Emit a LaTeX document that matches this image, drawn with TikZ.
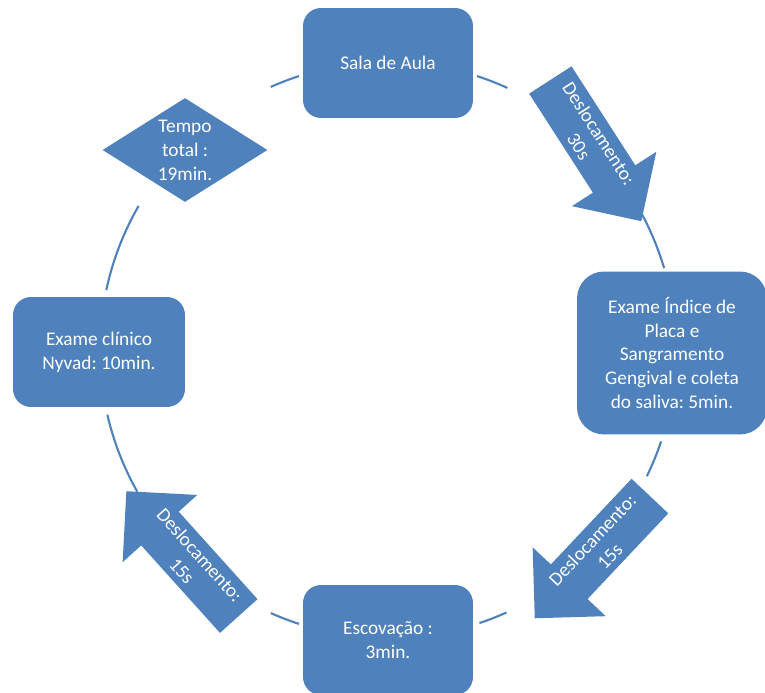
\documentclass[tikz,border=0pt]{standalone}
\usepackage{fontspec}
\setmainfont{Carlito}
\frenchspacing
\usepackage{tikz}
\usetikzlibrary{shapes.geometric, shapes.arrows, backgrounds}
\definecolor{accent}{RGB}{79,129,189}

\begin{document}
\begin{tikzpicture}[
    x=0.02cm, y=0.02cm,
    font=\fontsize{11}{13.6}\selectfont,
    box/.style={rectangle, rounded corners=0.36cm, fill=accent, text=white, align=center, minimum width=3.4cm, minimum height=2.2cm},
    move/.style={single arrow, single arrow head extend=0.5cm, fill=accent, text=white, align=center, minimum height=3.36cm, inner sep=3.5pt},
    ring/.style={accent, line width=1.2pt}
]
\useasboundingbox (0,0) rectangle (765,693);
\coordinate (hub) at (388,343);

\node[box] (sala) at (388,630) {Sala de Aula};
\node[box, minimum width=3.8cm, minimum height=3.26cm, rounded corners=0.54cm] (placa) at (672,340) {Exame Índice de\\Placa e\\Sangramento\\Gengival e coleta\\do saliva: 5min.};
\node[box] (escov) at (388,53) {Escovação :\\3min.};
\node[box, minimum width=3.44cm] (clinico) at (99,341) {Exame clínico\\Nyvad: 10min.};
\node[diamond, aspect=1.6, fill=accent, text=white, align=center, inner sep=0pt, minimum width=3.3cm, minimum height=2.08cm] (tempo) at (185,543) {Tempo\\total :\\19min.};

% arrows between the stations
\node[move, rotate=-57.2] (move1) at (589,553) {Deslocamento:\\30s};
\node[move, rotate=46.7, shape border rotate=180] (move2) at (601,145) {Deslocamento:\\15s};
\node[move, rotate=-48, shape border rotate=180] (move3) at (191,130) {Deslocamento:\\15s};

% cycle
\begin{scope}[on background layer]
\draw[ring] (hub) ++(72:288) arc[start angle=72, end angle=65.5, radius=288];
\draw[ring] (hub) ++(29.5:288) arc[start angle=29.5, end angle=16.5, radius=288];
\draw[ring] (hub) ++(-18.5:288) arc[start angle=-18.5, end angle=-26, radius=288];
\draw[ring] (hub) ++(-65.7:288) arc[start angle=-65.7, end angle=-71.5, radius=288];
\draw[ring] (hub) ++(-108:288) arc[start angle=-108, end angle=-114, radius=288];
\draw[ring] (hub) ++(-150.5:288) arc[start angle=-150.5, end angle=-167, radius=288];
\draw[ring] (hub) ++(168:288) arc[start angle=168, end angle=150, radius=288];
\draw[ring] (hub) ++(114:288) arc[start angle=114, end angle=108, radius=288];
\end{scope}
\end{tikzpicture}
\end{document}
